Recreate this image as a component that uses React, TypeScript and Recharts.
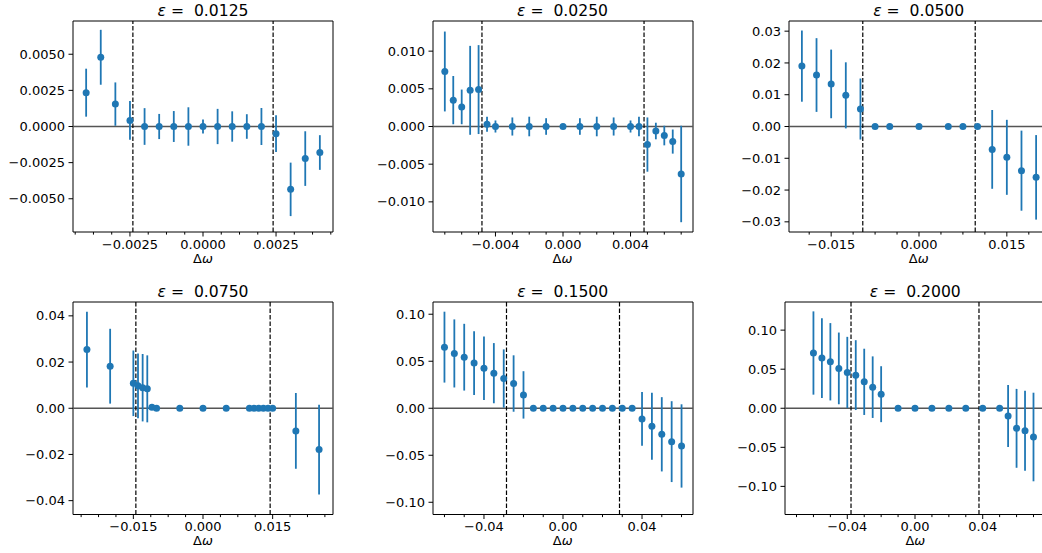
import React from "react";
import {
  ScatterChart,
  Scatter,
  XAxis,
  YAxis,
  ErrorBar,
  ReferenceLine,
  ReferenceArea,
} from "recharts";

const BLUE = "#1f77b4";
const FONT = "'DejaVu Sans', sans-serif";

// eps = 0.0125
const p1X = [-0.004, -0.0035, -0.003, -0.0025, -0.002, -0.0015, -0.001, -0.0005, 0, 0.0005, 0.001, 0.0015, 0.002, 0.0025, 0.003, 0.0035, 0.004];
const p1Y = [0.00234, 0.00479, 0.00155, 0.00042, 0, 0, 0, 0, 0, 0, 0, 0, 0, -0.0005, -0.00435, -0.00222, -0.0018];
const p1Err = [0.00166, 0.0019, 0.0015, 0.00134, 0.00127, 0.00087, 0.00107, 0.00133, 0.00048, 0.00122, 0.00105, 0.00085, 0.00128, 0.00127, 0.00185, 0.00189, 0.0012];

// eps = 0.0250
const p2X = [-0.007, -0.0065, -0.006, -0.0055, -0.005, -0.0045, -0.004, -0.003, -0.002, -0.001, 0, 0.001, 0.002, 0.003, 0.004, 0.0045, 0.005, 0.0055, 0.006, 0.0065, 0.007];
const p2Y = [0.0073, 0.0035, 0.0026, 0.0048, 0.0049, 0.0003, 0, 0, 0, 0, 0, 0, 0, 0, 0, 0, -0.0024, -0.0006, -0.0012, -0.002, -0.0063];
const p2Err = [0.0053, 0.0032, 0.0023, 0.0059, 0.0059, 0.001, 0.0008, 0.0012, 0.0013, 0.0011, 0.0003, 0.0011, 0.0013, 0.0012, 0.0008, 0.0013, 0.0036, 0.0011, 0.0013, 0.0016, 0.0064];

// eps = 0.0500
const p3X = [-0.02, -0.0175, -0.015, -0.0125, -0.01, -0.0075, -0.005, 0, 0.005, 0.0075, 0.01, 0.0125, 0.015, 0.0175, 0.02];
const p3Y = [0.019, 0.0162, 0.0134, 0.0098, 0.0055, 0, 0, 0, 0, 0, 0, -0.0072, -0.0097, -0.0139, -0.016];
const p3Err = [0.0112, 0.0116, 0.0108, 0.0104, 0.0096, 0, 0, 0, 0, 0, 0, 0.0124, 0.0118, 0.0126, 0.0133];

// eps = 0.0750
const p4X = [-0.025, -0.02, -0.015, -0.014, -0.013, -0.012, -0.011, -0.01, -0.005, 0, 0.005, 0.01, 0.011, 0.012, 0.013, 0.014, 0.015, 0.02, 0.025];
const p4Y = [0.0254, 0.0182, 0.0108, 0.0097, 0.0089, 0.0084, 0.0004, 0, 0, 0, 0, 0, 0, 0, 0, 0, 0, -0.0098, -0.0179];
const p4Err = [0.0164, 0.0162, 0.0142, 0.014, 0.0146, 0.0145, 0, 0, 0, 0, 0, 0, 0, 0, 0, 0, 0, 0.0164, 0.0194];

// eps = 0.1500
const p5X = [-0.06, -0.055, -0.05, -0.045, -0.04, -0.035, -0.03, -0.025, -0.02, -0.015, -0.01, -0.005, 0, 0.005, 0.01, 0.015, 0.02, 0.025, 0.03, 0.035, 0.04, 0.045, 0.05, 0.055, 0.06];
const p5Y = [0.065, 0.0583, 0.0543, 0.048, 0.0426, 0.0373, 0.0316, 0.0263, 0.0142, 0, 0, 0, 0, 0, 0, 0, 0, 0, 0, 0, -0.0114, -0.0192, -0.0277, -0.0355, -0.0401];
const p5Err = [0.0377, 0.0362, 0.0355, 0.034, 0.0337, 0.032, 0.031, 0.03, 0.0252, 0, 0, 0, 0, 0, 0, 0, 0, 0, 0, 0, 0.0286, 0.0357, 0.0395, 0.043, 0.0443];

// eps = 0.2000
const p6X = [-0.06, -0.055, -0.05, -0.045, -0.04, -0.035, -0.03, -0.025, -0.02, -0.01, 0, 0.01, 0.02, 0.03, 0.04, 0.05, 0.055, 0.06, 0.065, 0.07];
const p6Y = [0.0707, 0.0642, 0.0595, 0.051, 0.0458, 0.0424, 0.0338, 0.027, 0.018, 0, 0, 0, 0, 0, 0, 0, -0.0099, -0.0257, -0.0287, -0.0368];
const p6Err = [0.0533, 0.051, 0.0495, 0.0459, 0.0456, 0.0447, 0.0424, 0.0394, 0.0358, 0, 0, 0, 0, 0, 0, 0, 0.0396, 0.0505, 0.0512, 0.0567];

const epsLabels = ["0.0125", "0.0250", "0.0500", "0.0750", "0.1500", "0.2000"];
const bandEdges = [0.0024, 0.0048, 0.0096, 0.01446, 0.0286, 0.0378];
const xLimits = [0.00445, 0.0077, 0.0222, 0.028, 0.0658, 0.0768];
const yLimits = [0.0073, 0.014, 0.0332, 0.046, 0.113, 0.136];

const xMajor = [
  [-0.0025, 0, 0.0025],
  [-0.004, 0, 0.004],
  [-0.015, 0, 0.015],
  [-0.015, 0, 0.015],
  [-0.04, 0, 0.04],
  [-0.04, 0, 0.04],
];
const xMajorLabels = [
  ["−0.0025", "0.0000", "0.0025"],
  ["−0.004", "0.000", "0.004"],
  ["−0.015", "0.000", "0.015"],
  ["−0.015", "0.000", "0.015"],
  ["−0.04", "0.00", "0.04"],
  ["−0.04", "0.00", "0.04"],
];
const xMinor = [
  [-0.004375, -0.00375, -0.003125, -0.001875, -0.00125, -0.000625, 0.000625, 0.00125, 0.001875, 0.003125, 0.00375, 0.004375],
  [-0.007, -0.006, -0.005, -0.003, -0.002, -0.001, 0.001, 0.002, 0.003, 0.005, 0.006, 0.007],
  [-0.01875, -0.01125, -0.0075, -0.00375, 0.00375, 0.0075, 0.01125, 0.01875],
  [-0.02625, -0.0225, -0.01875, -0.01125, -0.0075, -0.00375, 0.00375, 0.0075, 0.01125, 0.01875, 0.0225, 0.02625],
  [-0.06, -0.05, -0.03, -0.02, -0.01, 0.01, 0.02, 0.03, 0.05, 0.06],
  [-0.07, -0.06, -0.05, -0.03, -0.02, -0.01, 0.01, 0.02, 0.03, 0.05, 0.06, 0.07],
];
const yTicks = [
  [-0.005, -0.0025, 0, 0.0025, 0.005],
  [-0.01, -0.005, 0, 0.005, 0.01],
  [-0.03, -0.02, -0.01, 0, 0.01, 0.02, 0.03],
  [-0.04, -0.02, 0, 0.02, 0.04],
  [-0.1, -0.05, 0, 0.05, 0.1],
  [-0.1, -0.05, 0, 0.05, 0.1],
];
const yTickLabels = [
  ["−0.0050", "−0.0025", "0.0000", "0.0025", "0.0050"],
  ["−0.010", "−0.005", "0.000", "0.005", "0.010"],
  ["−0.03", "−0.02", "−0.01", "0.00", "0.01", "0.02", "0.03"],
  ["−0.04", "−0.02", "0.00", "0.02", "0.04"],
  ["−0.10", "−0.05", "0.00", "0.05", "0.10"],
  ["−0.10", "−0.05", "0.00", "0.05", "0.10"],
];

const xs = [p1X, p2X, p3X, p4X, p5X, p6X];
const ys = [p1Y, p2Y, p3Y, p4Y, p5Y, p6Y];
const errs = [p1Err, p2Err, p3Err, p4Err, p5Err, p6Err];

// plot-area placement (left / top / height of the axes frame)
const panelLeft = [73, 432.5, 788.7, 73, 432.7, 785.3];
const panelTop = [21, 21, 21, 302, 302, 302];
const panelH = [211, 211, 211, 212.5, 212.5, 212.5];
const PW = 260;
const YW = 72;

const sameVal = (a: number, b: number) => Math.abs(a - b) < 1e-9;

function XTick(props: any) {
  const { x, y, payload, majors, labels } = props;
  const idx = majors.findIndex((m: number) => sameVal(m, payload.value));
  const major = idx >= 0;
  return (
    <g>
      <line x1={x} x2={x} y1={y} y2={y + (major ? 4.5 : 2.6)} stroke="#000" strokeWidth={1} />
      {major && (
        <text x={x} y={y + 7.5} dy="0.71em" textAnchor="middle" fontSize={13} fontFamily={FONT} fill="#000">
          {labels[idx]}
        </text>
      )}
    </g>
  );
}

const dot = (p: any) => <circle cx={p.cx} cy={p.cy} r={3.5} fill={BLUE} />;

function Panel({ i }: { i: number }) {
  const data = xs[i].map((x, k) => ({ x, y: ys[i][k], err: errs[i][k] }));
  const L = panelLeft[i];
  const T = panelTop[i];
  const PH = panelH[i];
  const dx = xLimits[i];
  const dy = yLimits[i];
  const band = bandEdges[i];
  const allX = [...xMajor[i], ...xMinor[i]].sort((a, b) => a - b);

  return (
    <>
      <div style={{ position: "absolute", left: L - YW, top: T - 5 }}>
        <ScatterChart width={YW + PW + 5} height={5 + PH + 40} margin={{ top: 5, right: 5, bottom: 0, left: 0 }}>
          <XAxis
            type="number"
            dataKey="x"
            domain={[-dx, dx]}
            allowDataOverflow
            ticks={allX}
            interval={0}
            tickSize={0}
            tickMargin={0}
            tickLine={false}
            axisLine={false}
            height={40}
            tick={<XTick majors={xMajor[i]} labels={xMajorLabels[i]} />}
          />
          <YAxis
            type="number"
            dataKey="y"
            domain={[-dy, dy]}
            allowDataOverflow
            ticks={yTicks[i]}
            interval={0}
            width={YW}
            tickSize={4.5}
            tickMargin={3.5}
            tickLine={{ stroke: "#000" }}
            axisLine={false}
            tick={{ fill: "#000", fontSize: 13, fontFamily: FONT }}
            tickFormatter={(v: number) => {
              const k = yTicks[i].findIndex((t) => sameVal(t, v));
              return k >= 0 ? yTickLabels[i][k] : "";
            }}
          />
          <ReferenceLine y={0} stroke="#555" strokeWidth={1.6} />
          <ReferenceLine x={-band} stroke="#000" strokeWidth={1.2} strokeDasharray="4.5 2" />
          <ReferenceLine x={band} stroke="#000" strokeWidth={1.2} strokeDasharray="4.5 2" />
          <Scatter data={data} fill={BLUE} isAnimationActive={false} shape={dot}>
            <ErrorBar dataKey="err" direction="y" width={0} stroke={BLUE} strokeWidth={1.8} />
          </Scatter>
          <ReferenceArea x1={-dx} x2={dx} y1={-dy} y2={dy} fill="none" stroke="#000" strokeWidth={1} />
        </ScatterChart>
      </div>
      <div
        style={{
          position: "absolute",
          left: L,
          width: PW,
          top: T - 18.4,
          textAlign: "center",
          fontSize: 15.6,
          lineHeight: "16px",
          whiteSpace: "pre",
        }}
      >
        <span style={{ fontStyle: "italic" }}>ε</span>
        {" =  " + epsLabels[i]}
      </div>
      <div
        style={{
          position: "absolute",
          left: L,
          width: PW,
          top: T + PH + 20.5,
          textAlign: "center",
          fontSize: 13,
          lineHeight: "11px",
        }}
      >
        Δ<span style={{ fontStyle: "italic" }}>ω</span>
      </div>
    </>
  );
}

export default function App() {
  return (
    <div
      style={{
        position: "relative",
        width: 1042,
        height: 553,
        overflow: "hidden",
        background: "#fff",
        fontFamily: FONT,
        color: "#000",
      }}
    >
      <style>{"body{margin:0;overflow:hidden;}"}</style>
      {[0, 1, 2, 3, 4, 5].map((i) => (
        <Panel key={i} i={i} />
      ))}
    </div>
  );
}
